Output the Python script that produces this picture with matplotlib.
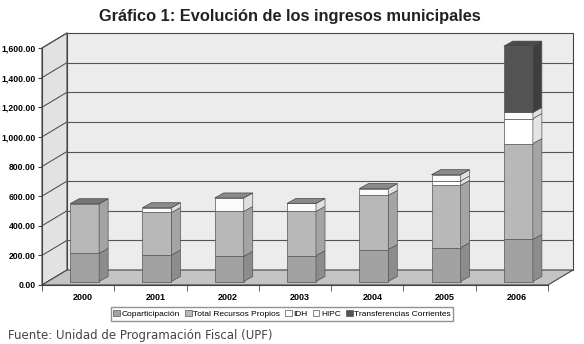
import numpy as np
import matplotlib.pyplot as plt
from matplotlib.patches import Patch

years = ["2000", "2001", "2002", "2003", "2004", "2005", "2006"]
series = ["Coparticipación", "Total Recursos Propios", "IDH", "HIPC", "Transferencias Corrientes"]
copart = [190, 178, 170, 175, 216, 228, 284]
propios = [335, 288, 303, 298, 365, 421, 647]
idh = [0, 0, 0, 0, 0, 30, 169]
hipc = [0, 32, 91, 54, 46, 42, 41]
transf = [0, 0, 0, 0, 0, 0, 448]
yticks = [0, 200, 400, 600, 800, 1000, 1200, 1400, 1600]

front = ["#a2a2a2", "#b8b8b8", "#ffffff", "#fbfbfb", "#545454"]
side = ["#8c8c8c", "#a4a4a4", "#e4e4e4", "#e0e0e0", "#3e3e3e"]
top_col = ["#6e6e6e", "#767676", "#8a8a8a", "#8a8a8a", "#4a4a4a"]

W, H = 584, 344
fig = plt.figure(figsize=(W / 100, H / 100), dpi=100)
x0p, x1p, y0p, y1p = 42, 548, 285, 48
ax = fig.add_axes([x0p / W, 1 - y0p / H, (x1p - x0p) / W, (y0p - y1p) / H])
n = len(years)
ax.set_xlim(0, n)
ax.set_ylim(0, 1600)

# pixel -> data conversion
sx = n / (x1p - x0p)
sy = 1600 / (y0p - y1p)
dx, dy = 25 * sx, 15 * sy          # wall depth
ox, oy = 6.5 * sx, 3.5 * sy        # bar placement depth
bdx, bdy = 9 * sx, 5 * sy          # bar depth
bw = 29 * sx

kw = dict(clip_on=False)
# back wall, left wall, floor
ax.fill([dx, n + dx, n + dx, dx], [dy, dy, 1600 + dy, 1600 + dy], color="#ececec", ec="#444", lw=0.8, zorder=1, **kw)
ax.fill([0, dx, dx, 0], [0, dy, 1600 + dy, 1600], color="#e2e2e2", ec="#444", lw=0.8, zorder=1, **kw)
ax.fill([0, n, n + dx, dx], [0, 0, dy, dy], color="#c4c4c4", ec="#444", lw=0.8, zorder=1, **kw)
for v in yticks[1:-1]:
    ax.plot([dx, n + dx], [v + dy, v + dy], color="#555", lw=0.8, zorder=2, **kw)
for v in yticks[1:]:
    ax.plot([0, dx], [v, v + dy], color="#555", lw=0.8, zorder=2, **kw)

data = [copart, propios, idh, hipc, transf]
x = np.arange(n) + 0.5
for i in range(n):
    xl = x[i] - bw / 2 + ox
    xr = xl + bw
    bottom = 0
    last = 0
    for k, vals in enumerate(data):
        v = vals[i]
        if v <= 0:
            continue
        ax.bar(xl, v, width=bw, bottom=bottom + oy, align="edge", color=front[k],
               edgecolor="#555", lw=0.5, zorder=3, **kw)
        b, t = bottom + oy, bottom + v + oy
        ax.fill([xr, xr + bdx, xr + bdx, xr], [b, b + bdy, t + bdy, t],
                color=side[k], ec="#555", lw=0.5, zorder=3, **kw)
        bottom += v
        last = k
    T = bottom + oy
    ax.fill([xl, xr, xr + bdx, xl + bdx], [T, T, T + bdy, T + bdy],
            color=top_col[last], ec="#444", lw=0.5, zorder=3, **kw)

for s in ["top", "right"]:
    ax.spines[s].set_visible(False)
ax.spines["left"].set_color("#444")
ax.spines["bottom"].set_color("#444")
ax.spines["left"].set_zorder(4)
ax.spines["bottom"].set_zorder(4)
ax.patch.set_alpha(0)
ax.set_yticks(yticks)
ax.set_yticklabels([f"{v:,.2f}" for v in yticks], fontsize=6.2, fontweight="bold", family="Liberation Sans")
ax.set_xticks(x + 0.07)
ax.set_xticklabels(years, fontsize=6.5, fontweight="bold", family="Liberation Sans")
ax.set_xticks(np.arange(n + 1), minor=True)
ax.tick_params(axis="x", which="major", length=0, pad=6)
ax.tick_params(axis="x", which="minor", length=4, color="#444")
ax.tick_params(axis="y", length=3, color="#444", pad=1.5)

handles = [Patch(facecolor=front[k], edgecolor="#555", lw=0.5) for k in range(5)]
fig.legend(handles, series, loc="center", bbox_to_anchor=(282 / W, 1 - 314 / H), ncol=5,
           prop={"family": "Liberation Sans", "size": 6}, frameon=True, fancybox=False,
           edgecolor="#777", handlelength=0.8, handleheight=0.8, handletextpad=0.2,
           columnspacing=0.6, borderpad=0.3)

fig.text(290 / W, 1 - 17 / H, "Gráfico 1: Evolución de los ingresos municipales",
         ha="center", va="center", fontsize=11.8, fontweight="bold", family="Liberation Sans", color="#222")
fig.text(8 / W, 1 - 336 / H, "Fuente: Unidad de Programación Fiscal (UPF)",
         ha="left", va="center", fontsize=8.5, family="DejaVu Sans", color="#444")

fig.savefig("out.png", dpi=100)
